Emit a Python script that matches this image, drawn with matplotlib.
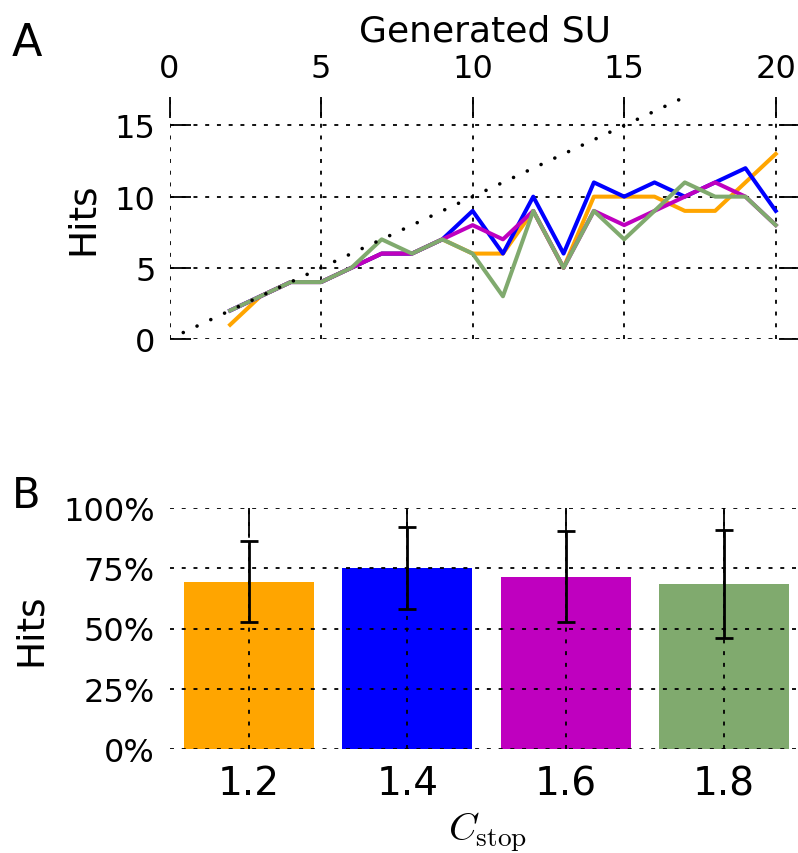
import matplotlib
matplotlib.use("Agg")
import matplotlib.pyplot as plt
from matplotlib.ticker import FuncFormatter

plt.rcParams['font.family'] = ['DejaVu Sans']
plt.rcParams['mathtext.fontset'] = 'cm'

# ---- data panel A ----
generated = list(range(2, 21))
hits_orange = [1, 3, 4, 4, 5, 6, 6, 7, 6, 6, 9, 5, 10, 10, 10, 9, 9, 11, 13]
hits_blue = [2, 3, 4, 4, 5, 6, 6, 7, 9, 6, 10, 6, 11, 10, 11, 10, 11, 12, 9]
hits_magenta = [2, 3, 4, 4, 5, 6, 6, 7, 8, 7, 9, 5, 9, 8, 9, 10, 11, 10, 8]
hits_green = [2, 3, 4, 4, 5, 7, 6, 7, 6, 3, 9, 5, 9, 7, 9, 11, 10, 10, 8]
ideal = [0, 17]

# ---- data panel B ----
c_stop = [1.2, 1.4, 1.6, 1.8]
c_labels = ['1.2', '1.4', '1.6', '1.8']
hit_pct = [69.5, 75.0, 71.5, 68.5]
hit_err = [17.0, 17.0, 19.0, 22.5]

colors = ['#FFA500', '#0000FF', '#BF00BF', '#80AA6E']

W, H = 798, 854
fig = plt.figure(figsize=(W / 100, H / 100), dpi=100)

def ax_rect(l, t, r, b):
    return [l / W, 1 - b / H, (r - l) / W, (b - t) / H]

grid_ls = (0, (2.2, 4.3))

# ---------------- Panel A ----------------
ax1 = fig.add_axes(ax_rect(169.5, 98, 800, 340))
for y, c in zip([hits_orange, hits_blue, hits_magenta, hits_green], colors):
    ax1.plot(generated, y, color=c, lw=2.9, zorder=3)
ax1.plot(ideal, ideal, color='black', lw=2.6, linestyle=(0, (0.01, 4.2)),
         dash_capstyle='round', zorder=3)
ax1.set_xlim(0, 20.8)
ax1.set_ylim(0, 17)
ax1.set_xticks([0, 5, 10, 15, 20])
ax1.set_yticks([0, 5, 10, 15])
for s in ax1.spines.values():
    s.set_visible(False)
ax1.xaxis.tick_top()
ax1.xaxis.set_label_position('top')
ax1.tick_params(axis='x', direction='in', length=15, width=1.3, pad=9,
                labelsize=23, top=True, bottom=False)
ax1.tick_params(axis='y', direction='in', length=15, width=1.3, pad=10,
                labelsize=23, left=True, right=True)
ax1.grid(True, color='black', lw=1.3, linestyle=grid_ls)
ax1.set_xlabel('Generated SU', fontsize=26, labelpad=9)
ax1.set_ylabel('Hits', fontsize=27, labelpad=10)
fig.text(12 / W, 1 - 56 / H, 'A', fontsize=32)

# ---------------- Panel B ----------------
ax2 = fig.add_axes(ax_rect(170, 509, 803, 750))
ax2.bar(c_stop, hit_pct, width=0.164, color=colors, zorder=1)
ax2.errorbar(c_stop, hit_pct, yerr=hit_err, fmt='none', ecolor='black',
             elinewidth=2, capsize=6.5, capthick=2, zorder=4)
ax2.set_xlim(1.1, 1.9)
ax2.set_ylim(0, 100)
ax2.set_xticks(c_stop)
ax2.set_xticklabels(c_labels)
ax2.set_yticks([0, 25, 50, 75, 100])
ax2.yaxis.set_major_formatter(FuncFormatter(lambda v, p: f'{int(v)}%'))
for s in ax2.spines.values():
    s.set_visible(False)
ax2.set_axisbelow(False)
ax2.grid(True, color='black', lw=1.3, linestyle=grid_ls, zorder=3)
ax2.tick_params(axis='x', direction='in', length=20, width=1.3, pad=11,
                labelsize=28, top=True, bottom=False)
ax2.tick_params(axis='y', length=0, pad=11, labelsize=23)
ax2.set_ylabel('Hits', fontsize=27, labelpad=10)
ax2.set_xlabel(r'$C_{\rm stop}$', fontsize=28)
ax2.xaxis.set_label_coords((487 - 170) / 633, -(811 - 750) / 241)
fig.text(12 / W, 1 - 508 / H, 'B', fontsize=30)

fig.savefig('out.png', dpi=100)
